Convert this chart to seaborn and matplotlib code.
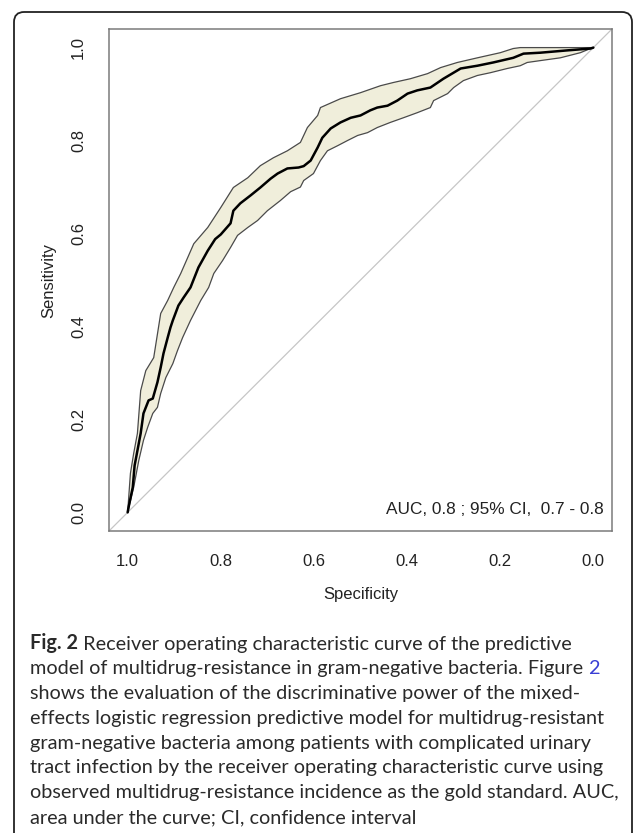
import numpy as np
import pandas as pd
import seaborn as sns
import matplotlib.pyplot as plt
from matplotlib.patches import FancyBboxPatch

# curva ROC (especificidad, sensibilidad)
roc_spec = [1.000, 0.998, 0.989, 0.985, 0.972, 0.966, 0.955, 0.946, 0.936, 0.929,
            0.923, 0.914, 0.908, 0.903, 0.891, 0.880, 0.865, 0.848, 0.828, 0.812,
            0.800, 0.779, 0.773, 0.758, 0.736, 0.715, 0.693, 0.678, 0.657, 0.633,
            0.622, 0.607, 0.592, 0.582, 0.564, 0.543, 0.521, 0.500, 0.479, 0.464,
            0.442, 0.421, 0.399, 0.378, 0.350, 0.322, 0.285, 0.249, 0.215, 0.172,
            0.150, 0.114, 0.056, 0.006, 0.000]
roc_sens = [0.000, 0.011, 0.054, 0.101, 0.170, 0.213, 0.241, 0.245, 0.280, 0.312,
            0.342, 0.376, 0.398, 0.413, 0.445, 0.462, 0.484, 0.527, 0.563, 0.588,
            0.598, 0.622, 0.649, 0.665, 0.682, 0.699, 0.718, 0.729, 0.740, 0.742,
            0.745, 0.757, 0.785, 0.806, 0.826, 0.839, 0.849, 0.854, 0.865, 0.871,
            0.875, 0.886, 0.901, 0.908, 0.914, 0.933, 0.955, 0.961, 0.968, 0.978,
            0.987, 0.989, 0.994, 0.998, 1.000]

# limite superior del IC 95%
up_spec = [1.000, 0.994, 0.987, 0.979, 0.972, 0.961, 0.944, 0.929, 0.914, 0.901,
           0.886, 0.858, 0.828, 0.800, 0.773, 0.742, 0.715, 0.687, 0.657, 0.629,
           0.614, 0.592, 0.586, 0.543, 0.500, 0.457, 0.429, 0.393, 0.356, 0.328,
           0.292, 0.249, 0.200, 0.172, 0.157, 0.000]
up_sens = [0.000, 0.084, 0.127, 0.170, 0.262, 0.305, 0.333, 0.428, 0.456, 0.484,
           0.514, 0.578, 0.613, 0.656, 0.699, 0.720, 0.746, 0.763, 0.778, 0.796,
           0.828, 0.854, 0.871, 0.890, 0.903, 0.918, 0.925, 0.933, 0.944, 0.957,
           0.968, 0.978, 0.989, 0.998, 1.000, 1.000]

# limite inferior del IC 95%
lo_spec = [1.000, 0.987, 0.976, 0.966, 0.957, 0.946, 0.936, 0.929, 0.918, 0.903,
           0.893, 0.882, 0.865, 0.843, 0.826, 0.815, 0.796, 0.779, 0.764, 0.742,
           0.721, 0.700, 0.672, 0.650, 0.629, 0.622, 0.601, 0.586, 0.571, 0.549,
           0.528, 0.506, 0.485, 0.464, 0.436, 0.408, 0.378, 0.350, 0.343, 0.313,
           0.300, 0.279, 0.249, 0.221, 0.185, 0.157, 0.142, 0.114, 0.071, 0.028,
           0.006, 0.000]
lo_sens = [0.000, 0.054, 0.112, 0.155, 0.183, 0.213, 0.226, 0.256, 0.290, 0.320,
           0.348, 0.376, 0.413, 0.456, 0.484, 0.514, 0.542, 0.570, 0.596, 0.613,
           0.628, 0.649, 0.671, 0.690, 0.700, 0.714, 0.729, 0.757, 0.778, 0.789,
           0.800, 0.811, 0.817, 0.828, 0.839, 0.849, 0.860, 0.871, 0.886, 0.901,
           0.914, 0.929, 0.940, 0.946, 0.955, 0.961, 0.968, 0.972, 0.978, 0.989,
           0.998, 1.000]

ticks = [0.0, 0.2, 0.4, 0.6, 0.8, 1.0]
auc_txt = "AUC, 0.8 ; 95% CI,  0.7 - 0.8"

caption = [
    [("Fig. 2", "bold", "#2a2a2a"), (" Receiver operating characteristic curve of the predictive", "normal", "#2a2a2a")],
    [("model of multidrug-resistance in gram-negative bacteria. Figure ", "normal", "#2a2a2a"), ("2", "normal", "#3a3fd4")],
    [("shows the evaluation of the discriminative power of the mixed-", "normal", "#2a2a2a")],
    [("effects logistic regression predictive model for multidrug-resistant", "normal", "#2a2a2a")],
    [("gram-negative bacteria among patients with complicated urinary", "normal", "#2a2a2a")],
    [("tract infection by the receiver operating characteristic curve using", "normal", "#2a2a2a")],
    [("observed multidrug-resistance incidence as the gold standard. AUC,", "normal", "#2a2a2a")],
    [("area under the curve; CI, confidence interval", "normal", "#2a2a2a")],
]

roc = pd.DataFrame({'spec': roc_spec, 'sens': roc_sens})
ci_up = pd.DataFrame({'spec': up_spec, 'sens': up_sens})
ci_lo = pd.DataFrame({'spec': lo_spec, 'sens': lo_sens})

sns.set_theme(style="white")
plt.rcParams['font.family'] = ['Liberation Sans', 'DejaVu Sans']

W, H = 633, 833
fig = plt.figure(figsize=(W / 100, H / 100), dpi=100)
ax = fig.add_axes([109 / W, 1 - 531 / H, (612 - 109) / W, (531 - 29) / H])

# banda del intervalo de confianza
poly_x = np.concatenate([ci_up['spec'].values, ci_lo['spec'].values[::-1]])
poly_y = np.concatenate([ci_up['sens'].values, ci_lo['sens'].values[::-1]])
ax.fill(poly_x, poly_y, color='#f0eedb', lw=0, zorder=1)
ax.axline((1, 0), (0, 1), color='#c6c6c6', lw=0.9, zorder=2)
sns.lineplot(data=ci_up, x='spec', y='sens', sort=False, estimator=None, color='#4a4a4a', lw=0.9, ax=ax, zorder=3)
sns.lineplot(data=ci_lo, x='spec', y='sens', sort=False, estimator=None, color='#4a4a4a', lw=0.9, ax=ax, zorder=3)
sns.lineplot(data=roc, x='spec', y='sens', sort=False, estimator=None, color='black', lw=1.8, ax=ax, zorder=4)

ax.set_xlim(1.04, -0.04)
ax.set_ylim(-0.04, 1.04)
ax.set_xticks(ticks)
ax.set_yticks(ticks)
ax.set_xticklabels([f"{t:.1f}" for t in ticks])
ax.set_yticklabels([f"{t:.1f}" for t in ticks], rotation=90, va='center')
ax.tick_params(axis='both', direction='out', length=8, width=1, color='#7a7a7a',
               labelsize=12, labelcolor='#222222')
ax.tick_params(axis='x', pad=8.5)
ax.tick_params(axis='y', pad=8.5)
for s in ax.spines.values():
    s.set_color('#7a7a7a')
    s.set_linewidth(1.1)

ax.set_xlabel("Specificity", fontsize=12, color='#222222')
ax.set_ylabel("Sensitivity", fontsize=12, color='#222222')
ax.xaxis.set_label_coords(0.5, -0.111)
ax.yaxis.set_label_coords(-0.104, 0.5)

ax.text(-0.022, 0.007, auc_txt, ha='right', va='center', fontsize=12.4, color='#222222')

# marco exterior redondeado
box = FancyBboxPatch((14 / W, -0.05), (632 - 14) / W, (H - 12) / H + 0.05,
                     boxstyle="round,pad=0,rounding_size=0.016", mutation_aspect=W / H,
                     transform=fig.transFigure, fill=False, ec='#222222', lw=1.3)
fig.add_artist(box)

# pie de figura, ajustado al ancho de la linea mas larga
cap_font = ['Lato', 'DejaVu Sans']
fig.canvas.draw()
r = fig.canvas.get_renderer()
probe = fig.text(0, 0, caption[6][0][0], fontsize=12, family=cap_font)
wpx = probe.get_window_extent(renderer=r).width
probe.remove()
cap_size = 12 * (617 - 30) / wpx

for i, line in enumerate(caption):
    yb = 1 - (649 + 24.9 * i) / H
    prev = None
    for txt, weight, col in line:
        if prev is None:
            prev = fig.text(30 / W, yb, txt, fontsize=cap_size, family=cap_font,
                            weight=weight, color=col, va='baseline', ha='left')
        else:
            prev = ax.annotate(txt, xy=(1, 0), xycoords=prev, fontsize=cap_size,
                               family=cap_font, weight=weight, color=col,
                               va='bottom', ha='left', annotation_clip=False)

plt.savefig('out.png', dpi=100)
